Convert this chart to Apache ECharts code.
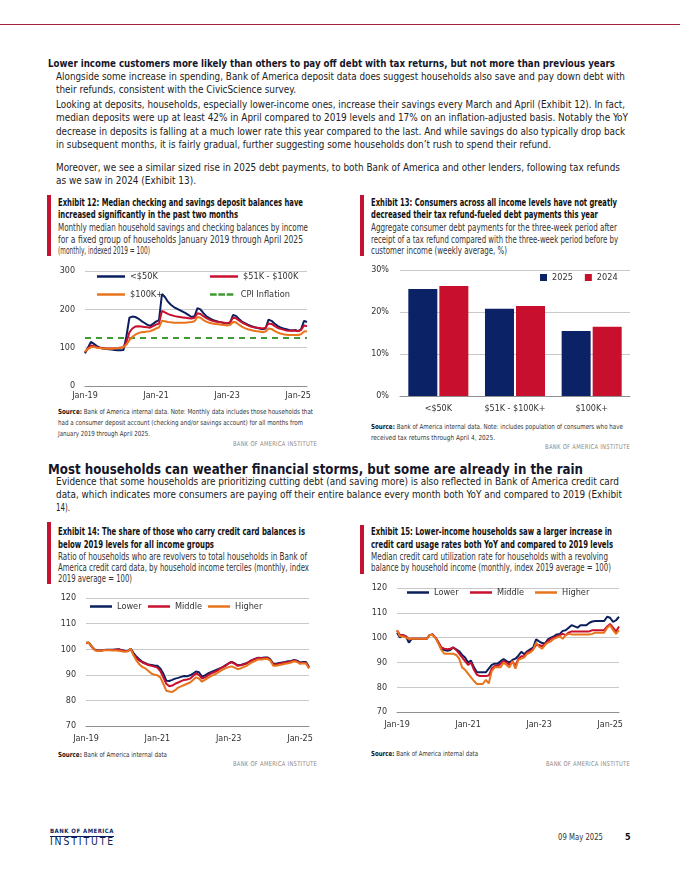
<!DOCTYPE html>
<html><head><meta charset="utf-8">
<script src="https://cdn.jsdelivr.net/npm/echarts@6.0.0/dist/echarts.min.js"></script>
<style>
html,body{margin:0;padding:0;background:#fff;}
body{width:680px;height:880px;position:relative;overflow:hidden;font-family:"Liberation Sans Narrow","DejaVu Sans Condensed","Liberation Sans",Arial,sans-serif;}
.ln{position:absolute;white-space:nowrap;transform-origin:0 50%;}
.h1{font-weight:bold;font-size:11px;line-height:13px;color:#14162a;}
.h2{font-weight:bold;font-size:14.5px;line-height:17px;color:#14162a;}
.bd{font-size:10.5px;line-height:13px;color:#222;}
.et{font-weight:bold;font-size:9.6px;line-height:12px;color:#111;}
.es{font-size:9.6px;line-height:12px;color:#333;}
.src{font-size:7px;line-height:9px;color:#333;}
.src b{color:#111;}
.boa{font-size:6.6px;line-height:8px;color:#8a8a8a;letter-spacing:0.3px;}
.lg1{font-weight:bold;font-size:6px;line-height:7px;color:#0b1f5c;letter-spacing:0.5px;}
.lg2{font-size:11px;line-height:12px;color:#0b1f5c;letter-spacing:2px;}
.ft{font-size:9px;line-height:11px;color:#333;}
.ftb{font-weight:bold;font-size:9px;line-height:11px;color:#111;}
.bar{position:absolute;background:#c41230;width:4px;}
.chart{position:absolute;}
</style></head>
<body>
<div style="position:absolute;left:0;top:24px;width:680px;height:1px;background:#a3213c;"></div>
<div class="bar" style="left:47px;top:195px;height:61px;"></div>
<div class="bar" style="left:360px;top:195px;height:61px;"></div>
<div class="bar" style="left:47px;top:522px;height:62px;"></div>
<div class="bar" style="left:360px;top:525px;height:49px;"></div>
<div style="position:absolute;left:50px;top:836px;width:64px;height:1px;background:#0b1f5c;"></div>
<div id="c12" class="chart" style="left:48px;top:262px;width:275px;height:145px;"></div>
<div id="c13" class="chart" style="left:360px;top:262px;width:275px;height:155px;"></div>
<div id="c14" class="chart" style="left:48px;top:590px;width:275px;height:160px;"></div>
<div id="c15" class="chart" style="left:360px;top:580px;width:275px;height:160px;"></div>
<script>
// ---------- DATA ----------
const MONTHS = ['Jan-19','Feb-19','Mar-19','Apr-19','May-19','Jun-19','Jul-19','Aug-19','Sep-19','Oct-19','Nov-19','Dec-19',
 'Jan-20','Feb-20','Mar-20','Apr-20','May-20','Jun-20','Jul-20','Aug-20','Sep-20','Oct-20','Nov-20','Dec-20',
 'Jan-21','Feb-21','Mar-21','Apr-21','May-21','Jun-21','Jul-21','Aug-21','Sep-21','Oct-21','Nov-21','Dec-21',
 'Jan-22','Feb-22','Mar-22','Apr-22','May-22','Jun-22','Jul-22','Aug-22','Sep-22','Oct-22','Nov-22','Dec-22',
 'Jan-23','Feb-23','Mar-23','Apr-23','May-23','Jun-23','Jul-23','Aug-23','Sep-23','Oct-23','Nov-23','Dec-23',
 'Jan-24','Feb-24','Mar-24','Apr-24','May-24','Jun-24','Jul-24','Aug-24','Sep-24','Oct-24','Nov-24','Dec-24',
 'Jan-25','Feb-25','Mar-25','Apr-25'];

// Exhibit 12 (index 2019 = 100)
const DEP_LT50K = [85,100,115,110,104,100,98,97,96,95,94,93,
 93,94,130,178,181,180,176,170,165,160,157,162,
 168,172,240,232,220,212,206,202,198,194,190,185,
 180,182,203,200,190,182,177,173,170,168,166,164,
 163,165,185,183,175,168,164,160,157,154,152,150,
 148,150,173,170,163,157,153,150,148,146,145,146,
 143,148,170,167];
const DEP_51_100K = [88,98,106,104,101,100,99,98,98,98,98,99,
 100,101,115,140,150,155,156,155,154,153,152,156,
 160,163,196,192,188,185,183,181,180,179,178,177,
 176,178,190,188,182,177,173,170,168,167,166,165,
 164,166,178,177,171,166,162,158,155,153,152,151,
 150,152,163,162,157,152,149,147,145,144,144,145,
 143,146,158,156];
const DEP_100KP = [90,97,101,102,100,99,98,98,97,97,98,99,
 100,101,108,120,128,134,138,140,141,142,143,146,
 150,153,170,169,167,166,165,165,165,165,165,166,
 167,169,180,178,172,168,165,163,162,161,160,159,
 158,159,167,166,160,155,151,148,146,144,143,142,
 140,142,150,149,144,140,137,135,134,133,133,133,
 133,135,142,143];
const CPI_X = ['Jan-19','Apr-25'];
const CPI_VAL = [125,125];
const Y12_TICKS = [0,100,200,300];

// Exhibit 13 (%)
const BAR_CATS = ['<$50K','$51K - $100K+','$100K+'];
const PAY_2025 = [25.5,20.8,15.5];
const PAY_2024 = [26.2,21.4,16.5];

// Exhibit 14 (index 2019 avg = 100)
const REV_LOWER = [102.5,102.5,101,99.8,99.5,99.5,99.7,99.8,99.8,99.8,99.9,100,
 99.6,99.4,99.3,100.2,98.5,97,96,95,94.5,94,93.8,93.6,
 93.5,92.5,90.5,87.7,87.6,88,88.5,88.8,89.2,89.5,89.4,89.8,
 90.5,91.3,91,89.3,89.8,90.5,91,91.5,92,92.5,93,93.8,
 94.5,95,94.5,93.7,93.8,94.2,94.5,95.2,95.8,96.3,96.7,96.6,
 96.8,96.8,96,94.3,94.3,94.6,94.8,95,95.3,95.4,95.8,95.5,
 94.8,95,95,93];
const REV_MIDDLE = [102.3,102.5,100.8,99.7,99.4,99.5,99.7,99.7,99.7,99.7,99.8,99.9,
 99.5,99.3,99.2,100,98,96.5,95.5,94.8,94.3,93.8,93.5,93.2,
 92.8,91.5,89,86.5,85.5,85.8,86.5,87,87.5,88,88.2,88.5,
 89.5,90.5,90,88.5,89,89.8,90.5,91,91.5,92.3,93,93.5,
 94.5,95,94.3,93.5,93.7,94,94.5,95.2,95.8,96.2,96.6,96.5,
 96.6,96.6,95.8,94,94,94.3,94.6,94.8,95,95.2,95.6,95.2,
 94.5,94.7,94.6,92.7];
const REV_HIGHER = [102.5,102.5,101,99.6,99.3,99.4,99.6,99.6,99.6,99.5,99.5,99.4,
 99.2,99,99.2,100.2,97.5,95.5,94,93,92.5,91.5,90.5,90,
 89.8,89,86.5,83.8,83.5,83.3,84,85,85.5,86,86.5,87,
 88,89,88.5,87.3,88,88.8,89.5,90,90.6,91.3,92,92.6,
 93,93.3,92.8,92.2,92.5,93,93.5,94.3,95,95.5,96,96,
 96.2,96.2,95.5,93.5,93.5,93.8,94,94.3,94.5,94.8,95.3,95,
 94.3,94.5,94.4,92.5];

// Exhibit 15 (index 2019 avg = 100)
const UTIL_LOWER = [102,100,101,100.5,98,99.5,99.5,99.5,99.5,99.5,99.5,101,
 101.3,100,98,95.5,95,94.7,95,96,95.3,94.5,93,92,
 90,90.7,88,86,86,86,86,87.5,89,89.5,89.5,90.5,
 91.3,90.5,90,91,91.5,92.7,94.3,93.3,94.5,95.3,96,99.3,
 98.5,97.8,97.6,99.3,100,100.5,101.3,101.5,102.7,103,104,105,
 104.5,104,105,105,105,106,106.5,106.7,106.7,106.7,106.7,108.4,
 108,106.3,107,108.4];
const UTIL_MIDDLE = [103,101,101,100.5,99.5,99.5,99.5,99.5,99.5,99.5,99.5,101,
 101.3,100,98,96,95.5,95.3,95.5,96,95,93.5,92,90.5,
 89,90,87,85,84.5,84.5,84.5,84.7,87.5,88.5,88.5,89.5,
 90.5,90,89,90.5,88.5,91.5,92.5,92.5,94,94.5,95.5,97,
 97,96.5,97.5,98.5,99.5,100,100.5,101,101.5,101,102,102.5,
 102.5,102.5,102.5,102.5,102.5,102.5,103,103,103,103,103,104.5,
 105.5,104,102.5,104.5];
const UTIL_HIGHER = [103,100.5,100.5,100,99.5,99.5,99.5,99.5,99.5,99.5,99.5,101,
 101,100,97.5,95,93.5,93.5,93.5,93.5,93,91.5,88,87,
 85.5,84,82.5,81.3,81.3,81.3,83,81.5,86.5,88,88,88,
 90,89,88,90.5,87.5,91,91.5,92,93.5,94,95,98,
 96.3,95.5,97,98,98.5,99.5,100,100.5,99.5,101,101.5,101.3,
 101.3,101.3,101.3,101.3,101.3,101.3,101.5,102,102,102,102,104,
 105,103,101.5,103];

// ---------- TEXT ----------
const TEXT = [
 ['h1',48,63,615,'Lower income customers more likely than others to pay off debt with tax returns, but not more than previous years'],
 ['bd',56,76,625,'Alongside some increase in spending, Bank of America deposit data does suggest households also save and pay down debt with'],
 ['bd',56,89,296,'their refunds, consistent with the CivicScience survey.'],
 ['bd',56,104,625,'Looking at deposits, households, especially lower-income ones, increase their savings every March and April (Exhibit 12). In fact,'],
 ['bd',56,117,628,'median deposits were up at least 42% in April compared to 2019 levels and 17% on an inflation-adjusted basis. Notably the YoY'],
 ['bd',56,131,625,'decrease in deposits is falling at a much lower rate this year compared to the last. And while savings do also typically drop back'],
 ['bd',56,144,551,'in subsequent months, it is fairly gradual, further suggesting some households don\u2019t rush to spend their refund.'],
 ['bd',56,167,620,'Moreover, we see a similar sized rise in 2025 debt payments, to both Bank of America and other lenders, following tax refunds'],
 ['bd',56,180,196,'as we saw in 2024 (Exhibit 13).'],
 ['et',58,203,303,'Exhibit 12: Median checking and savings deposit balances have'],
 ['et',58,215,238,'increased significantly in the past two months'],
 ['es',58,228,308,'Monthly median household savings and checking balances by income'],
 ['es',58,239.5,303,'for a fixed group of households January 2019 through April 2025'],
 ['es',58,251,150,'(monthly, indexed 2019 = 100)'],
 ['src',58,412,313,'<b>Source:</b> Bank of America internal data. Note: Monthly data includes those households that'],
 ['src',58,423.5,303,'had a consumer deposit account (checking and/or savings account) for all months from'],
 ['src',58,434,150,'January 2019 through April 2025.'],
 ['boa',233,444,317,'BANK OF AMERICA INSTITUTE'],
 ['et',371,203,617,'Exhibit 13: Consumers across all income levels have not greatly'],
 ['et',371,215,598,'decreased their tax refund-fueled debt payments this year'],
 ['es',371,228,617,'Aggregate consumer debt payments for the three-week period after'],
 ['es',371,239.5,618,'receipt of a tax refund compared with the three-week period before by'],
 ['es',371,251,507,'customer income (weekly average, %)'],
 ['src',371,427.5,623,'<b>Source:</b> Bank of America internal data. Note: includes population of consumers who have'],
 ['src',371,438,495,'received tax returns through April 4, 2025.'],
 ['boa',545,447,630,'BANK OF AMERICA INSTITUTE'],
 ['h2',48,469,583,'Most households can weather financial storms, but some are already in the rain'],
 ['bd',56,481,619,'Evidence that some households are prioritizing cutting debt (and saving more) is also reflected in Bank of America credit card'],
 ['bd',56,494,622,'data, which indicates more consumers are paying off their entire balance every month both YoY and compared to 2019 (Exhibit'],
 ['bd',56,507,70,'14).'],
 ['et',58,532,305,'Exhibit 14: The share of those who carry credit card balances is'],
 ['et',58,544.5,214,'below 2019 levels for all income groups'],
 ['es',58,557,307,'Ratio of households who are revolvers to total households in Bank of'],
 ['es',58,568,309,'America credit card data, by household income terciles (monthly, index'],
 ['es',58,579,132,'2019 average = 100)'],
 ['src',58,755,167,'<b>Source:</b> Bank of America internal data'],
 ['boa',233,764,317,'BANK OF AMERICA INSTITUTE'],
 ['et',371,532,612,'Exhibit 15: Lower-income households saw a larger increase in'],
 ['et',371,544.5,613,'credit card usage rates both YoY and compared to 2019 levels'],
 ['es',371,557,608,'Median credit card utilization rate for households with a revolving'],
 ['es',371,568,611,'balance by household income (monthly, index 2019 average = 100)'],
 ['src',371,754,478,'<b>Source:</b> Bank of America internal data'],
 ['boa',546,764,630,'BANK OF AMERICA INSTITUTE'],
 ['lg1',50,830.5,114,'BANK OF AMERICA'],
 ['lg2',50,841.5,115,'INSTITUTE'],
 ['ft',558,837,603,'09 May 2025'],
 ['ftb',625,837,0,'5']
];
TEXT.forEach(([cls,x,y,r,html])=>{
  const d=document.createElement('div');
  d.className='ln '+cls; d.innerHTML=html;
  d.style.left=x+'px';
  document.body.appendChild(d);
  const h=d.offsetHeight;
  d.style.top=(y-h/2)+'px';
  if(r){const w=d.getBoundingClientRect().width; d.style.transform='scaleX('+((r-x)/w).toFixed(4)+')';}
});

// ---------- FONT PICK (for chart canvas text) ----------
function hasFont(f){const c=document.createElement('canvas').getContext('2d');const s='abcdefghijKLMNOP0123$%';
  c.font='20px monospace';const a=c.measureText(s).width;c.font="20px '"+f+"', monospace";return c.measureText(s).width!==a;}
let FF, K;
if(hasFont('Liberation Sans Narrow')){FF='Liberation Sans Narrow';K=1;}
else if(hasFont('DejaVu Sans Condensed')){FF='DejaVu Sans Condensed';K=0.86;}
else {FF='Liberation Sans';K=0.86;}

// ---------- CHARTS ----------
const NAVY='#0b1f5e', RED='#c8102e', ORANGE='#e8741c', GREEN='#3f9b34', GRID='#c9c9c9', AXIS='#8f8f8f';
const lab={fontFamily:FF,fontSize:10.4*K,color:'#333'};
const legTxt={fontFamily:FF,fontSize:10.6*K,color:'#333'};
const DASH_ICON='path://M0,0h8v3h-8zM10,0h8v3h-8zM20,0h8v3h-8z';
function lineSeries(name,data,color){return {name,type:'line',data,symbol:'none',lineStyle:{width:2,color},itemStyle:{color},z:3};}
function leg(name,left,top,w,icon){return {data:[{name,icon:icon||'rect'}],left,top,padding:0,itemWidth:w,itemHeight:2.5,itemGap:0,textStyle:legTxt,selectedMode:false};}
function timeX(margin){return {type:'category',data:MONTHS,boundaryGap:false,axisTick:{show:false},
  axisLine:{lineStyle:{color:AXIS,width:1}},axisLabel:Object.assign({interval:23,margin},lab),splitLine:{show:false}};}

const c12=echarts.init(document.getElementById('c12'));
c12.setOption({animation:false,
  grid:{left:37,right:16,top:9,bottom:21},
  xAxis:timeX(5),
  yAxis:{type:'value',min:Y12_TICKS[0],max:Y12_TICKS[Y12_TICKS.length-1],interval:100,axisLabel:Object.assign({margin:10},lab),
    axisLine:{show:false},axisTick:{show:false},splitLine:{lineStyle:{color:GRID}}},
  legend:[leg('<$50K',49,10,28),leg('$51K - $100K',162,10,28),leg('$100K+',49,28,28),leg('CPI Inflation',162,28,28,DASH_ICON)],
  series:[lineSeries('<$50K',DEP_LT50K,NAVY),lineSeries('$51K - $100K',DEP_51_100K,RED),lineSeries('$100K+',DEP_100KP,ORANGE),
    {name:'CPI Inflation',type:'line',data:CPI_X.map((m,i)=>[m,CPI_VAL[i]]),symbol:'none',lineStyle:{width:2,color:GREEN,type:[6,5]},itemStyle:{color:GREEN},z:2}]
});

const c13=echarts.init(document.getElementById('c13'));
c13.setOption({animation:false,
  grid:{left:40,right:5,top:8,bottom:21},
  xAxis:{type:'category',data:BAR_CATS,axisTick:{show:false},axisLine:{lineStyle:{color:AXIS}},axisLabel:Object.assign({margin:8,interval:0},lab)},
  yAxis:{type:'value',min:0,max:30,interval:10,axisLabel:Object.assign({margin:11,formatter:'{value}%'},lab),
    axisLine:{show:false},axisTick:{show:false},splitLine:{lineStyle:{color:GRID}}},
  legend:{data:['2025','2024'],left:180,top:11,padding:0,icon:'rect',itemWidth:7,itemHeight:7,itemGap:12,textStyle:legTxt,selectedMode:false},
  series:[{name:'2025',type:'bar',data:PAY_2025,barWidth:29,barGap:'7%',itemStyle:{color:'#0b2366'}},
          {name:'2024',type:'bar',data:PAY_2024,barWidth:29,itemStyle:{color:RED}}]
});

function idxChart(id,grid,margin,legTop,legLefts,series){
  const c=echarts.init(document.getElementById(id));
  c.setOption({animation:false,grid,xAxis:timeX(margin),
    yAxis:{type:'value',min:70,max:120,interval:10,axisLabel:Object.assign({margin:10},lab),
      axisLine:{show:false},axisTick:{show:false},splitLine:{lineStyle:{color:GRID}}},
    legend:[leg('Lower',legLefts[0],legTop,22),leg('Middle',legLefts[1],legTop,22),leg('Higher',legLefts[2],legTop,22)],
    series});
}
idxChart('c14',{left:38,right:14,top:8,bottom:24},8,12,[42,100,160],
  [lineSeries('Lower',REV_LOWER,NAVY),lineSeries('Middle',REV_MIDDLE,RED),lineSeries('Higher',REV_HIGHER,ORANGE)]);
idxChart('c15',{left:37,right:16,top:8,bottom:28},8,8,[47,110,175],
  [lineSeries('Lower',UTIL_LOWER,NAVY),lineSeries('Middle',UTIL_MIDDLE,RED),lineSeries('Higher',UTIL_HIGHER,ORANGE)]);
</script>
</body></html>
